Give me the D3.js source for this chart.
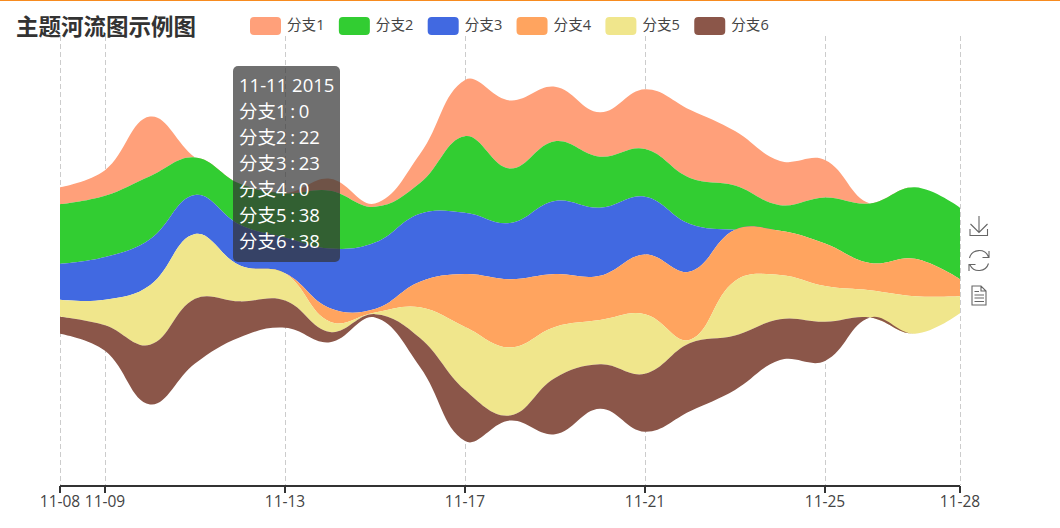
<!DOCTYPE html>
<html><head><meta charset="utf-8">
<script src="https://cdn.jsdelivr.net/npm/d3@7/dist/d3.min.js"></script>
<style>
html,body{margin:0;padding:0;background:#fff;overflow:hidden}
svg{display:block}
text{font-family:"Open Sans","Noto Sans CJK SC",sans-serif}
</style></head><body><svg id="c" width="1060" height="528"></svg>
<script>
const dates=["2015-11-08","2015-11-09","2015-11-10","2015-11-11","2015-11-12","2015-11-13","2015-11-14","2015-11-15","2015-11-16","2015-11-17","2015-11-18","2015-11-19","2015-11-20","2015-11-21","2015-11-22","2015-11-23","2015-11-24","2015-11-25","2015-11-26","2015-11-27","2015-11-28"];
const names=["分支1","分支2","分支3","分支4","分支5","分支6"];
const colors=["#FFA07A","#32CD32","#4169E1","#FFA45F","#F0E68C","#8B5649"];
const branch1=[10,15,35,0,0,0,7,2,17,33,40,32,26,35,40,32,26,22,0,0,0];
const branch2=[35,36,37,22,24,26,34,21,18,45,32,35,30,28,27,26,15,27,35,42,42];
const branch3=[21,25,27,23,24,21,35,39,40,36,33,43,40,34,28,0,0,0,0,0,0];
const branch4=[0,0,0,0,0,0,8,2,15,31,40,31,26,35,40,30,26,25,16,22,10];
const branch5=[10,15,35,38,21,16,6,1,18,37,40,30,26,35,2,32,26,21,16,22,10];
const branch6=[10,15,35,38,21,16,6,2,17,30,3,33,26,34,40,32,24,23,0,0,0];
const tickDates=["2015-11-08","2015-11-09","2015-11-13","2015-11-17","2015-11-21","2015-11-25","2015-11-28"];
const series=[branch1,branch2,branch3,branch4,branch5,branch6];
const tipIndex=3;

const parse=d3.utcParse("%Y-%m-%d");
const svg=d3.select("#c");
const x=d3.scaleUtc().domain([parse(dates[0]),parse(dates[dates.length-1])]).range([60,960]);
const rows=dates.map((d,i)=>{const r={date:parse(d)};names.forEach((n,j)=>r[n]=series[j][i]);return r;});
const stacked=d3.stack().keys(names).offset(d3.stackOffsetSilhouette)(rows);
const maxSum=d3.max(rows,r=>d3.sum(names,n=>r[n]));
const y=d3.scaleLinear().domain([-maxSum/2,maxSum/2]).range([80,441]);

// same smoothing as a polygon with bezier tangents weighted by neighbouring segment length
function smoothCurve(ctx){
  let pts=[],inArea=false,lineNo=0;const s=0.4;
  return {
    areaStart(){inArea=true;lineNo=0;},
    areaEnd(){inArea=false;ctx.closePath();},
    lineStart(){pts=[];},
    point(a,b){pts.push([+a,+b]);},
    lineEnd(){
      const n=pts.length;
      if(inArea&&lineNo>0)ctx.lineTo(pts[0][0],pts[0][1]);else ctx.moveTo(pts[0][0],pts[0][1]);
      lineNo++;
      let cp1=pts[0];
      for(let i=1;i<n;i++){
        const p=pts[i],prev=pts[i-1],next=pts[i+1];
        let cp0=p,nc=p;
        if(next){
          const vx=next[0]-prev[0],vy=next[1]-prev[1];
          const l0=Math.hypot(p[0]-prev[0],p[1]-prev[1]),l1=Math.hypot(next[0]-p[0],next[1]-p[1]);
          const r=l1/(l0+l1);
          cp0=[p[0]-vx*s*(1-r),p[1]-vy*s*(1-r)];
          nc=[p[0]+vx*s*r,p[1]+vy*s*r];
        }
        ctx.bezierCurveTo(cp1[0],cp1[1],cp0[0],cp0[1],p[0],p[1]);
        cp1=nc;
      }
    }
  };
}

// top accent line
svg.append("rect").attr("x",0).attr("y",0).attr("width",1060).attr("height",1).attr("fill","#F78B1F");

// grid
const ticks=tickDates.map(parse);
svg.append("g").selectAll("line").data(ticks).join("line")
  .attr("x1",d=>x(d)+0.5).attr("x2",d=>x(d)+0.5).attr("y1",36).attr("y2",485)
  .attr("stroke","#ccc").attr("stroke-width",1).attr("stroke-dasharray","5,3");

// river
const area=d3.area().x(d=>x(d.data.date)).y0(d=>y(d[0])).y1(d=>y(d[1])).curve(smoothCurve);
svg.append("g").selectAll("path").data(stacked).join("path")
  .attr("d",area).attr("fill",(d,i)=>colors[i]);

// axis
const ax=svg.append("g").attr("transform","translate(0,486)")
  .call(d3.axisBottom(x).tickValues(ticks).tickFormat(d3.utcFormat("%m-%d")).tickSizeOuter(0).tickSizeInner(7).tickPadding(3).offset(0));
ax.select(".domain").attr("stroke","#333").attr("stroke-width",2);
ax.selectAll(".tick line").attr("stroke","#333").attr("stroke-width",2);
ax.selectAll("text").attr("fill","#444").style("font-size","15.5px").style("font-family",'"Open Sans",sans-serif');

// title
svg.append("text").attr("x",16).attr("y",35).text("主题河流图示例图")
  .attr("fill","#333").attr("font-weight",700).style("font-size","22.5px");

// legend
const lg=svg.append("g").selectAll("g").data(names).join("g")
  .attr("transform",(d,i)=>`translate(${250+i*88.85},17)`);
lg.append("rect").attr("width",31).attr("height",18).attr("rx",4).attr("fill",(d,i)=>colors[i]);
lg.append("text").attr("x",37).attr("y",13).text(d=>d).attr("fill","#444").style("font-size","14.6px");

// tooltip
const tip=svg.append("g");
tip.append("rect").attr("x",233).attr("y",66).attr("width",107).attr("height",196).attr("rx",5)
  .attr("fill","rgba(50,50,50,0.7)");
const tipLines=[d3.utcFormat("%m-%d %Y")(parse(dates[tipIndex]))].concat(names.map((n,j)=>`${n} : ${series[j][tipIndex]}`));
tip.selectAll("text").data(tipLines).join("text")
  .attr("x",239).attr("y",(d,i)=>91.5+i*26).text(d=>d).attr("fill","#fff").style("font-size","18.5px")
  .style("word-spacing",(d,i)=>i?"-1.2px":"0");

// toolbox icons
const icon=svg.append("g").attr("fill","none").attr("stroke","#666").attr("stroke-width",1.1);
icon.append("path").attr("d","M979 216V232M970.5 224L979 232.5L987.5 224M970 229V235.5H987.5V229");
icon.append("path").attr("d","M969.5 258A10 10 0 0 1 988.5 257M988.5 263.5A10 10 0 0 1 970 265M989 251V257.5H982.5M969 271V264.5H975.5");
icon.append("path").attr("d","M972 286H981L986 291V305H972ZM981 286V291H986M974.5 291.5H979M974.5 295H984M974.5 298H984M974.5 301.5H984");
</script></body></html>
